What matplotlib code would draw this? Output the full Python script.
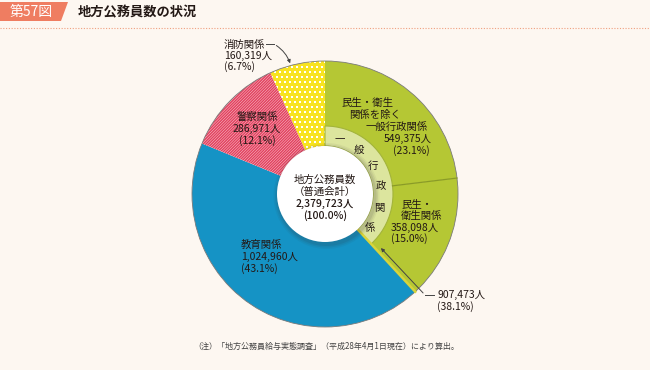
import numpy as np
import matplotlib.pyplot as plt
from matplotlib.patches import Circle, Polygon

plt.rcParams['font.family'] = ['Noto Sans CJK JP', 'DejaVu Sans']
plt.rcParams['hatch.linewidth'] = 1.1

# 地方公務員数（普通会計）の内訳
labels = ["民生・衛生関係を除く一般行政関係", "民生・衛生関係", "教育関係", "警察関係", "消防関係"]
counts = [549375, 358098, 1024960, 286971, 160319]
shares = [23.1, 15.0, 43.1, 12.1, 6.7]
general_total = 907473      # 一般行政関係
general_share = 38.1
grand_total = 2379723

colors = ['#b5c734', '#b5c734', '#1593c5', '#fcdbe2', '#f8e320']
hatches = ['', '', '', '/' * 12, '']
hatch_colors = ['none', 'none', 'none', '#e2425f', 'none']
bg = '#fdf7f1'
ink = '#231815'

W, H = 650, 370
def Y(y):
    return H - y

fig = plt.figure(figsize=(6.5, 3.7), dpi=100)
fig.patch.set_facecolor(bg)
ax = fig.add_axes([0, 0, 1, 1])
ax.set_facecolor(bg)

cx, cy = 325, Y(194)
R, r_ring, r_hole = 133, 68, 48

wedges, _ = ax.pie(counts, colors=colors, startangle=90, counterclock=False,
                   center=(cx, cy), radius=R, hatch=hatches,
                   wedgeprops=dict(linewidth=0))
for w, hc in zip(wedges, hatch_colors):
    w.set_edgecolor(hc)

# white dot texture on the yellow slice
gx, gy = np.meshgrid(np.arange(cx - R, cx + R, 5.0), np.arange(cy - R, cy + R, 5.0))
gx = gx + (np.arange(gx.shape[0])[:, None] % 2) * 2.5
dots = ax.scatter(gx.ravel(), gy.ravel(), s=2.2, marker='s', color='white', lw=0, zorder=2)
dots.set_clip_path(wedges[4])

ax.add_patch(Circle((cx, cy), R, fill=False, ec='#7a7a7a', lw=0.6, zorder=3))

# inner ring: 一般行政関係
ring, _ = ax.pie([general_total, grand_total - general_total],
                 colors=['#dce59e', 'none'], startangle=90, counterclock=False,
                 center=(cx, cy), radius=r_ring,
                 wedgeprops=dict(width=r_ring - r_hole, linewidth=0.8, edgecolor='#a3b43a'))
ring[1].set_visible(False)
for w in ring:
    w.set_zorder(4)

# radial boundaries
cum = np.cumsum(counts) / grand_total
a1 = np.deg2rad(90 - 360 * cum[0])
a2 = np.deg2rad(90 - 360 * cum[1])
ax.plot([cx + r_ring * np.cos(a1), cx + R * np.cos(a1)],
        [cy + r_ring * np.sin(a1), cy + R * np.sin(a1)], color='#8a9b26', lw=0.9, zorder=5)
ax.plot([cx + r_hole * np.cos(a2), cx + R * np.cos(a2)],
        [cy + r_hole * np.sin(a2), cy + R * np.sin(a2)], color='#d8d43a', lw=1.8, zorder=5)

# center hole with soft shadow
for k, al in [(5, 0.06), (3.5, 0.08), (2, 0.1)]:
    ax.add_patch(Circle((cx + 1.5, cy - 2), r_hole + k, color='#333333', alpha=al, lw=0, zorder=6))
ax.add_patch(Circle((cx, cy), r_hole, color='white', lw=0, zorder=7))

fs = 7.5
def txt(x, y, s, ha='center', **kw):
    ax.text(x, Y(y), s, ha=ha, va='center', fontsize=fs, color=ink, zorder=8, **kw)

txt(cx, 180, "地方公務員数")
txt(cx, 192, "（普通会計）")
txt(cx, 204, f"{grand_total:,}人", fontweight='medium')
txt(cx, 216, "(100.0%)", fontweight='medium')

# vertical text along inner ring
for ch, ang in zip("一般行政関係", np.linspace(15, 127, 6)):
    t = np.deg2rad(ang)
    ax.text(cx + 56 * np.sin(t), cy + 56 * np.cos(t), ch, ha='center', va='center',
            fontsize=fs, color=ink, zorder=8)

# segment labels
def block(x, y0, lines, ha='left', step=12):
    for i, s in enumerate(lines):
        txt(x, y0 + i * step, s, ha=ha)

txt(367, 103, "民生・衛生")
txt(375, 115, "関係を除く")
txt(397, 127, "一般行政関係")
txt(408, 139, f"{counts[0]:,}人")
txt(411, 151, f"({shares[0]}%)")

block(401, 205, ["民生・", "衛生関係"], step=11)
block(391, 228, [f"{counts[1]:,}人", f"({shares[1]}%)"], step=11)
block(241, 245, ["教育関係", f"{counts[2]:,}人", f"({shares[2]}%)"])
block(257, 117, ["警察関係", f"{counts[3]:,}人", f"({shares[3]}%)"], ha='center')
block(224, 45, ["消防関係", f"{counts[4]:,}人", f"({shares[4]}%)"], step=11)
block(437, 295, [f"{general_total:,}人", f"({general_share}%)"])

# leader lines
ax.plot([266, 274], [Y(44), Y(44)], color='#444444', lw=0.7, zorder=9)
ax.annotate("", xy=(291, Y(66)), xytext=(274, Y(44)),
            arrowprops=dict(arrowstyle='-|>', color='#444444', lw=0.7, mutation_scale=5,
                            connectionstyle='arc3,rad=-0.2'), zorder=9)
ax.plot([434, 425], [Y(295), Y(295)], color='#444444', lw=0.7, zorder=9)
ax.annotate("", xy=(379, Y(246)), xytext=(425, Y(295)),
            arrowprops=dict(arrowstyle='-|>', color='#444444', lw=0.7, mutation_scale=5), zorder=9)

# header
ax.add_patch(Polygon([(0, Y(2)), (68, Y(2)), (61, Y(21)), (0, Y(21))], closed=True,
                     color='#ef7d61', lw=0))
ax.text(31, Y(12), "第57図", ha='center', va='center', fontsize=10, color='white')
ax.text(78, Y(12), "地方公務員数の状況", ha='left', va='center', fontsize=9.5,
        fontweight='bold', color=ink)
ax.plot([0, W], [Y(28), Y(28)], ls=(0, (1, 1.5)), color='#f0a080', lw=0.8)

ax.text(326, Y(346), "（注）「地方公務員給与実態調査」（平成28年4月1日現在）により算出。",
        ha='center', va='center', fontsize=5.8, color='#444444')

ax.set_xlim(0, W)
ax.set_ylim(0, H)
ax.set_aspect('auto')
ax.axis('off')

fig.savefig("out.png", dpi=100, facecolor=fig.get_facecolor())
